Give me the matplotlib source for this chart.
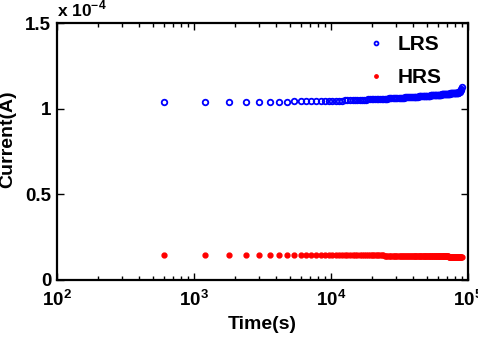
import numpy as np
import matplotlib
matplotlib.use('Agg')
import matplotlib.pyplot as plt
from matplotlib.ticker import FixedLocator, FuncFormatter, LogLocator

plt.rcParams['font.family'] = 'Liberation Sans'
plt.rcParams['font.weight'] = 'bold'
plt.rcParams['mathtext.fontset'] = 'custom'
plt.rcParams['mathtext.bf'] = 'Liberation Sans:bold'
plt.rcParams['mathtext.rm'] = 'Liberation Sans:bold'

# retention test, one reading every 600 s
time_s = np.arange(600, 90001, 600)

# current in units of 1e-4 A
lrs = [1.040, 1.040, 1.041, 1.041, 1.041, 1.042, 1.042, 1.042, 1.043, 1.043,
       1.044, 1.044, 1.045, 1.045, 1.046, 1.046, 1.047, 1.047, 1.048, 1.048,
       1.049, 1.049, 1.050, 1.050, 1.051, 1.051, 1.052, 1.052, 1.053, 1.053,
       1.054, 1.054, 1.055, 1.055, 1.056, 1.056, 1.056, 1.057, 1.057, 1.058,
       1.058, 1.059, 1.059, 1.060, 1.060, 1.061, 1.061, 1.061, 1.062, 1.062,
       1.063, 1.063, 1.064, 1.064, 1.064, 1.065, 1.065, 1.066, 1.066, 1.066,
       1.067, 1.067, 1.068, 1.068, 1.068, 1.069, 1.069, 1.070, 1.070, 1.070,
       1.071, 1.071, 1.072, 1.072, 1.072, 1.073, 1.073, 1.074, 1.074, 1.074,
       1.075, 1.075, 1.075, 1.076, 1.076, 1.077, 1.077, 1.077, 1.078, 1.078,
       1.078, 1.079, 1.079, 1.079, 1.080, 1.080, 1.080, 1.081, 1.081, 1.081,
       1.082, 1.082, 1.082, 1.083, 1.083, 1.083, 1.084, 1.084, 1.084, 1.085,
       1.085, 1.085, 1.086, 1.086, 1.086, 1.086, 1.087, 1.087, 1.087, 1.088,
       1.088, 1.088, 1.088, 1.089, 1.089, 1.089, 1.090, 1.090, 1.090, 1.090,
       1.091, 1.091, 1.091, 1.092, 1.092, 1.092, 1.093, 1.093, 1.093, 1.094,
       1.094, 1.095, 1.096, 1.097, 1.099, 1.101, 1.104, 1.108, 1.115, 1.128]

hrs = [0.147, 0.147, 0.147, 0.147, 0.147, 0.147, 0.146, 0.146, 0.146, 0.146,
       0.146, 0.146, 0.146, 0.146, 0.146, 0.146, 0.146, 0.146, 0.146, 0.146,
       0.145, 0.145, 0.145, 0.145, 0.145, 0.145, 0.145, 0.145, 0.145, 0.145,
       0.145, 0.145, 0.145, 0.145, 0.145, 0.145, 0.145, 0.145, 0.145, 0.144,
       0.140, 0.140, 0.140, 0.140, 0.140, 0.140, 0.140, 0.140, 0.140, 0.140,
       0.140, 0.140, 0.140, 0.140, 0.140, 0.140, 0.140, 0.140, 0.140, 0.140,
       0.139, 0.139, 0.139, 0.139, 0.139, 0.139, 0.139, 0.139, 0.139, 0.139,
       0.139, 0.139, 0.139, 0.139, 0.139, 0.139, 0.139, 0.139, 0.139, 0.139,
       0.139, 0.139, 0.139, 0.139, 0.139, 0.139, 0.139, 0.139, 0.139, 0.139,
       0.138, 0.138, 0.138, 0.138, 0.138, 0.138, 0.138, 0.138, 0.138, 0.138,
       0.138, 0.138, 0.138, 0.138, 0.138, 0.138, 0.138, 0.138, 0.138, 0.138,
       0.138, 0.138, 0.138, 0.138, 0.138, 0.138, 0.138, 0.138, 0.138, 0.138,
       0.137, 0.137, 0.137, 0.137, 0.137, 0.137, 0.137, 0.137, 0.137, 0.137,
       0.137, 0.137, 0.137, 0.136, 0.136, 0.136, 0.136, 0.136, 0.136, 0.136,
       0.136, 0.136, 0.136, 0.136, 0.136, 0.136, 0.136, 0.136, 0.136, 0.136]

fig = plt.figure(figsize=(4.78, 3.5), dpi=100)
ax = fig.add_axes([0.119, 0.2, 0.86, 0.734])

ax.plot(time_s, lrs, 'o', mfc='none', mec='#0000ff', mew=1.3, ms=4,
        label='LRS', linestyle='none')
ax.plot(time_s, hrs, 'o', color='#ff0000', ms=3.5, label='HRS', linestyle='none')

ax.set_xscale('log')
ax.set_xlim(1e2, 1e5)
ax.set_ylim(0, 1.5)
ax.yaxis.set_major_locator(FixedLocator([0, 0.5, 1, 1.5]))
ax.yaxis.set_major_formatter(FuncFormatter(lambda v, p: '%g' % v))
ax.xaxis.set_major_locator(LogLocator(base=10, numticks=10))
ax.xaxis.set_minor_locator(LogLocator(base=10, subs=np.arange(2, 10), numticks=10))
ax.xaxis.set_major_formatter(FuncFormatter(lambda v, p: r'$\mathbf{10^{%d}}$' % round(np.log10(v))))

ax.tick_params(which='both', direction='in', top=True, right=True, labelsize=13.5, width=1)
ax.tick_params(which='major', length=5)
ax.tick_params(which='minor', length=3)
ax.tick_params(axis='x', pad=7)
ax.tick_params(axis='y', pad=4)
for s in ax.spines.values():
    s.set_linewidth(1.6)

ax.set_xlabel('Time(s)', fontsize=14, fontweight='bold')
ax.xaxis.set_label_coords(0.5, -0.14)
ax.set_ylabel('Current(A)', fontsize=14, fontweight='bold')
ax.yaxis.set_label_coords(-0.1, 0.55)
ax.text(0.0, 1.015, r'x 10$^{\mathbf{-4}}$', transform=ax.transAxes,
        fontsize=12.5, fontweight='bold', ha='left', va='bottom')

ax.legend(loc='upper right', bbox_to_anchor=(0.935, 0.952), frameon=False,
          fontsize=15, handlelength=1, handletextpad=0.5, markerscale=0.7,
          borderaxespad=0, borderpad=0, labelspacing=0.65)

fig.savefig('out.png', dpi=100)
